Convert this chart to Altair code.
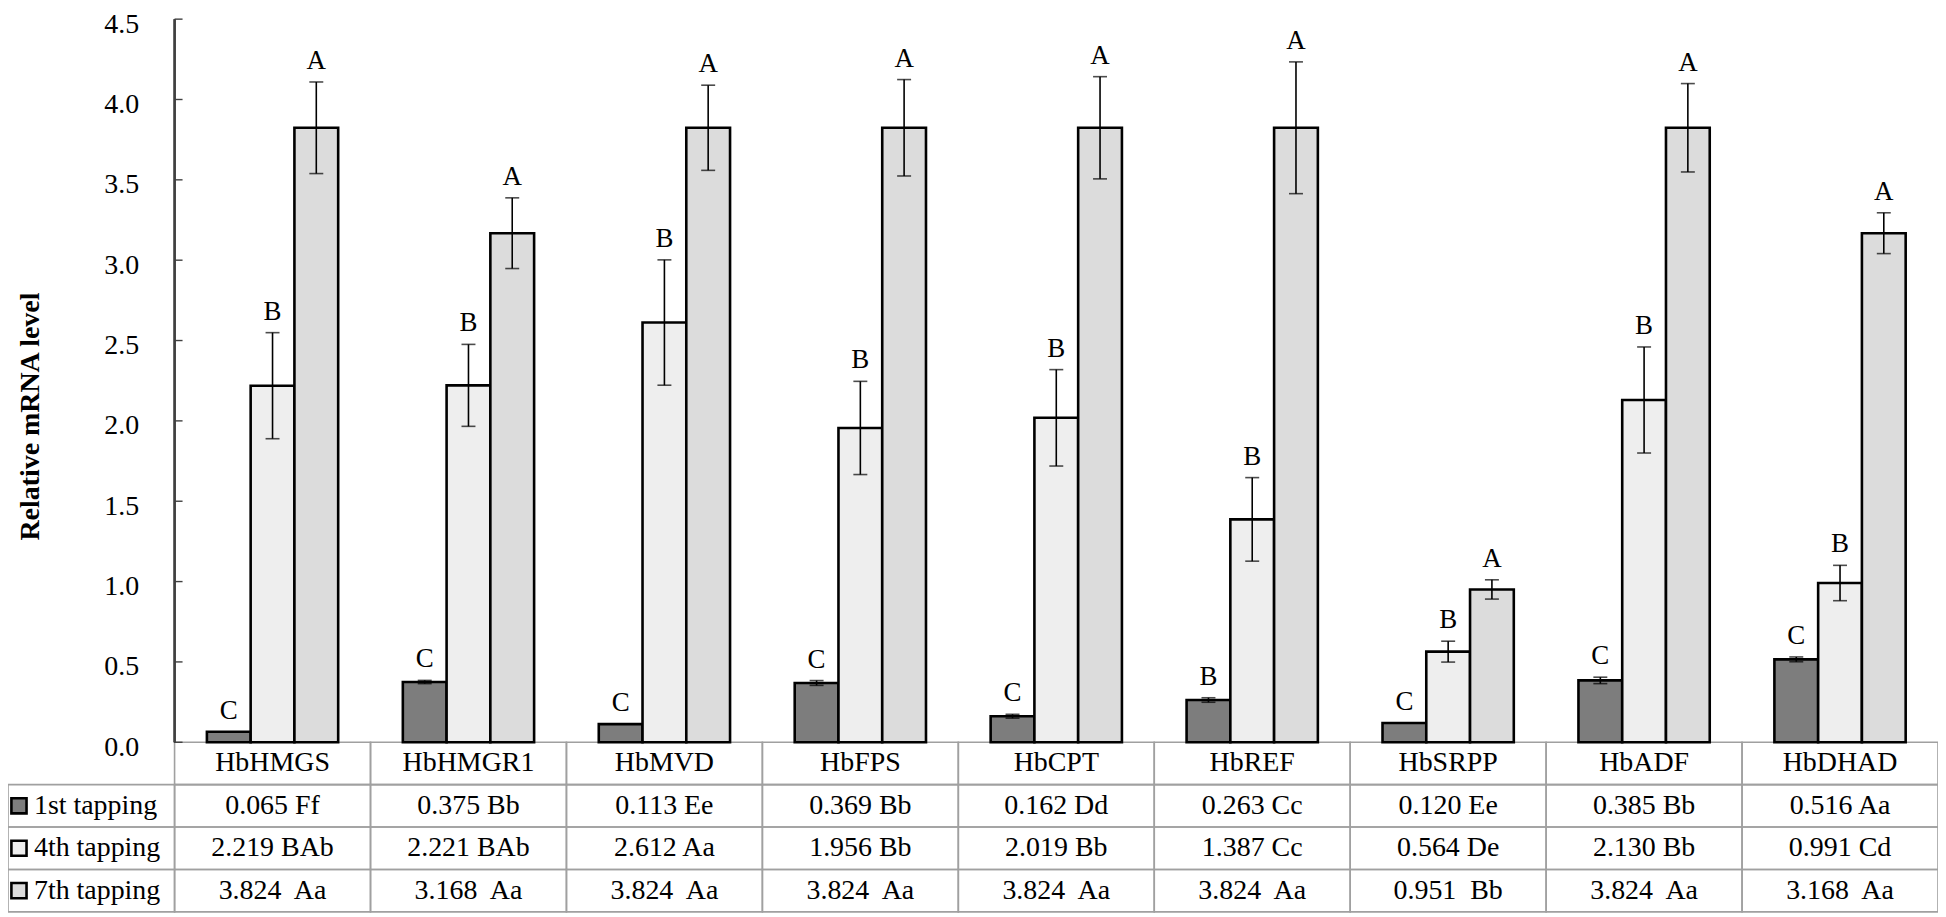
import altair as alt
import pandas as pd

# ---------------- data ----------------
genes = ["HbHMGS", "HbHMGR1", "HbMVD", "HbFPS", "HbCPT", "HbREF", "HbSRPP", "HbADF", "HbDHAD"]
series = ["1st tapping", "4th tapping", "7th tapping"]

v1 = [0.065, 0.375, 0.113, 0.369, 0.162, 0.263, 0.120, 0.385, 0.516]
v4 = [2.219, 2.221, 2.612, 1.956, 2.019, 1.387, 0.564, 2.130, 0.991]
v7 = [3.824, 3.168, 3.824, 3.824, 3.824, 3.824, 0.951, 3.824, 3.168]

e1 = [0.0, 0.010, 0.0, 0.015, 0.012, 0.014, 0.0, 0.020, 0.015]
e4 = [0.330, 0.255, 0.390, 0.290, 0.300, 0.260, 0.065, 0.330, 0.110]
e7 = [0.285, 0.220, 0.265, 0.300, 0.318, 0.410, 0.060, 0.275, 0.127]

sig1 = ["C", "C", "C", "C", "C", "B", "C", "C", "C"]
sig4 = ["B", "B", "B", "B", "B", "B", "B", "B", "B"]
sig7 = ["A", "A", "A", "A", "A", "A", "A", "A", "A"]

codes1 = ["Ff", "Bb", "Ee", "Bb", "Dd", "Cc", "Ee", "Bb", "Aa"]
codes4 = ["BAb", "BAb", "Aa", "Bb", "Bb", "Cc", "De", "Bb", "Cd"]
codes7 = ["Aa", "Aa", "Aa", "Aa", "Aa", "Aa", "Bb", "Aa", "Aa"]

y_ticks = [0.0, 0.5, 1.0, 1.5, 2.0, 2.5, 3.0, 3.5, 4.0, 4.5]

# ---------------- layout constants ----------------
W, H = 1935, 895
AXIS_PX = 167                      # plot-x of the y axis (header column width)
STEP = (W - AXIS_PX) / len(genes)  # width of one gene column
HDR = AXIS_PX / STEP               # header column width in column units
PX_PER_UNIT = 725 / 4.5
TAB = 170 / PX_PER_UNIT            # table height in y units
R = TAB / 4                        # one table row
FONT = "Liberation Serif"
fills = ["#7d7d7d", "#eeeeee", "#dcdcdc"]

# ---------------- tables ----------------
bar_rows = []
for s, vals, errs, sigs in zip(series, [v1, v4, v7], [e1, e4, e7], [sig1, sig4, sig7]):
    for g, v, e, sg in zip(genes, vals, errs, sigs):
        bar_rows.append(dict(gene=g, series=s, value=v, lo=v - e, hi=v + e, sig=sg))
bars_df = pd.DataFrame(bar_rows)

cell_rows = []
for i, g in enumerate(genes):
    cell_rows.append(dict(x0=i, x1=i + 1, y0=0, y1=-R, xc=i + 0.5, yc=-R / 2, label=g))
for k, (vals, codes) in enumerate(zip([v1, v4, v7], [codes1, codes4, codes7]), start=1):
    sep = "\u00a0 " if k == 3 else " "
    for i in range(len(genes)):
        cell_rows.append(dict(x0=i, x1=i + 1, y0=-k * R, y1=-(k + 1) * R,
                              xc=i + 0.5, yc=-(k + 0.5) * R,
                              label=f"{vals[i]:.3f}{sep}{codes[i]}"))
cells_df = pd.DataFrame(cell_rows)

hdr_df = pd.DataFrame([dict(x0=-HDR, x1=0, y0=-k * R, y1=-(k + 1) * R, yc=-(k + 0.5) * R, series=s)
                       for k, s in enumerate(series, start=1)])
ticks_df = pd.DataFrame(dict(t=y_ticks))

# ---------------- scales / axes ----------------
yscale = alt.Scale(domain=[-TAB, 4.5], nice=False, zero=False)
yaxis = alt.Axis(values=y_ticks, format=".1f", offset=-AXIS_PX, domain=False, ticks=False,
                 tickSize=0, grid=False, labelPadding=36, labelOffset=5, labelFont=FONT,
                 labelFontSize=28, labelColor="black", labelFlush=False,
                 title="Relative mRNA level", titleFont=FONT, titleFontSize=28,
                 titleFontWeight="bold", titleColor="black", titleX=-130, titleY=398)
color = alt.Color("series:N", scale=alt.Scale(domain=series, range=fills), legend=None)
xt = alt.Scale(domain=[-HDR, len(genes)], nice=False, zero=False)

def Y(field):
    return alt.Y(field, type="quantitative", scale=yscale, axis=yaxis)

# ---------------- bars ----------------
xb = alt.X("gene:N", sort=genes, axis=None,
           scale=alt.Scale(range=[AXIS_PX, W], paddingInner=0.33, paddingOuter=0.165))
xo = alt.XOffset("series:N", sort=series, scale=alt.Scale(paddingInner=0, paddingOuter=0))

base = alt.Chart(bars_df)
bars = base.mark_bar(stroke="black", strokeWidth=2.6).encode(
    x=xb, xOffset=xo, y=Y("value"), y2=alt.Y2(datum=0), color=color)
err = base.mark_rule(color="black", strokeWidth=1.6).encode(
    x=xb, xOffset=xo, y=Y("lo"), y2="hi")
cap_hi = base.mark_tick(color="black", size=14, thickness=1.6).encode(x=xb, xOffset=xo, y=Y("hi"))
cap_lo = base.mark_tick(color="black", size=14, thickness=1.6).encode(x=xb, xOffset=xo, y=Y("lo"))
letters = base.mark_text(font=FONT, fontSize=27, color="black", baseline="alphabetic", dy=-13).encode(
    x=xb, xOffset=xo, y=Y("hi"), text="sig:N")
bar_group = alt.layer(bars, err, cap_hi, cap_lo, letters)

# ---------------- table ----------------
cells = alt.Chart(cells_df).mark_rect(fillOpacity=0, stroke="#a0a0a0", strokeWidth=1.6).encode(
    x=alt.X("x0:Q", scale=xt, axis=None), x2="x1", y=Y("y0"), y2="y1")
cell_text = alt.Chart(cells_df).mark_text(font=FONT, fontSize=28, color="black").encode(
    x=alt.X("xc:Q", scale=xt, axis=None), y=Y("yc"), text="label:N")
hdr_cells = alt.Chart(hdr_df).mark_rect(fillOpacity=0, stroke="#a0a0a0", strokeWidth=1.6).encode(
    x=alt.X("x0:Q", scale=xt, axis=None), x2="x1", y=Y("y0"), y2="y1")
hdr_icon = alt.Chart(hdr_df).mark_point(shape="square", filled=True, size=230, stroke="black",
                                        strokeWidth=2.6, opacity=1, xOffset=11).encode(
    x=alt.X("x0:Q", scale=xt, axis=None), y=Y("yc"), color=color)
hdr_text = alt.Chart(hdr_df).mark_text(font=FONT, fontSize=28, color="black", align="left", dx=26).encode(
    x=alt.X("x0:Q", scale=xt, axis=None), y=Y("yc"), text="series:N")
axis_line = alt.Chart(ticks_df).mark_rule(color="#404040", strokeWidth=1.4).encode(
    x=alt.X(datum=0, scale=xt, axis=None), y=alt.Y(datum=0, scale=yscale, axis=yaxis),
    y2=alt.Y2(datum=4.5))
axis_ticks = alt.Chart(ticks_df).mark_rule(color="#404040", strokeWidth=1.4, x2Offset=8).encode(
    x=alt.X(datum=0, scale=xt, axis=None), x2=alt.X2(datum=0), y=Y("t"))
table_group = alt.layer(cells, hdr_cells, cell_text, hdr_icon, hdr_text, axis_line, axis_ticks)

chart = alt.layer(table_group, bar_group).resolve_scale(x="independent").properties(
    width=W, height=H,
    autosize=alt.AutoSizeParams(type="none"),
    padding={"left": 0, "top": 10, "right": 0, "bottom": 0},
).configure_view(stroke=None)

chart.save("out.html", embed_options={"renderer": "svg", "actions": False})
